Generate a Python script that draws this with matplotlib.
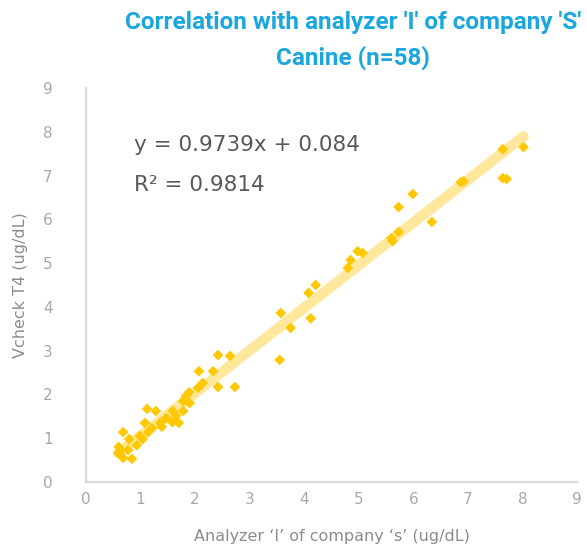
import numpy as np
import matplotlib
matplotlib.use('Agg')
import matplotlib.pyplot as plt

# analyzer 'I' of company 'S' vs Vcheck T4, canine samples
x_ref = [8.02, 7.64, 7.64, 7.71, 6.87, 6.92, 5.99, 5.73, 6.34, 5.73,
         5.60, 5.62, 4.98, 5.07, 4.85, 4.80, 4.21, 4.08, 4.12, 3.57,
         3.75, 3.55, 2.42, 2.64, 2.07, 2.33, 2.14, 2.05, 2.42, 2.73,
         1.89, 1.78, 1.90, 1.78, 1.59, 1.12, 1.28, 0.68, 1.08, 1.36,
         1.58, 1.70, 1.39, 1.14, 0.79, 0.93, 1.04, 0.60, 0.77, 0.59,
         0.68, 0.84, 1.83, 1.65, 1.21, 0.64, 0.99, 1.47]
y_vcheck = [7.65, 7.60, 6.94, 6.92, 6.85, 6.87, 6.58, 6.28, 5.94, 5.71,
            5.57, 5.50, 5.27, 5.23, 5.07, 4.89, 4.50, 4.32, 3.74, 3.86,
            3.52, 2.79, 2.90, 2.88, 2.53, 2.53, 2.26, 2.15, 2.17, 2.17,
            2.05, 1.85, 1.80, 1.62, 1.62, 1.67, 1.62, 1.14, 1.35, 1.35,
            1.37, 1.35, 1.26, 1.14, 0.98, 0.84, 0.98, 0.80, 0.73, 0.66,
            0.55, 0.53, 1.96, 1.51, 1.23, 0.73, 1.05, 1.46]

slope, intercept = 0.9739, 0.084
r2 = 0.9814
ticks = list(range(0, 10))

title_col = '#1AA6DF'
grey = '#A8A8A8'

fig = plt.figure(figsize=(5.87, 5.49), dpi=100)
ax = fig.add_axes([86/587, 1-482/549, (577-86)/587, (482-88)/549])

# trendline over the data range
xl = np.array([min(x_ref), max(x_ref)])
ax.plot(xl, slope*xl + intercept, color='#FFE89C', lw=7.5,
        solid_capstyle='round', zorder=1)
ax.scatter(x_ref, y_vcheck, marker='D', s=30, color='#FFC800',
           edgecolors='none', zorder=2)

ax.set_xlim(0, 9)
ax.set_ylim(0, 9)
ax.set_xticks(ticks)
ax.set_yticks(ticks)
ax.tick_params(length=0, colors=grey, labelsize=11)
ax.tick_params(axis='x', pad=7)
ax.tick_params(axis='y', pad=24)
for s in ['top', 'right']:
    ax.spines[s].set_visible(False)
for s in ['left', 'bottom']:
    ax.spines[s].set_color('#D9D9D9')
    ax.spines[s].set_linewidth(1.6)

ax.set_xlabel('Analyzer \u2018I\u2019 of company \u2018s\u2019 (ug/dL)',
              color='#8C8C8C', fontsize=11.5, labelpad=16)
ax.set_ylabel('Vcheck T4 (ug/dL)', color='#8C8C8C', fontsize=11.5,
              labelpad=11)

ax.text(0.88, 7.69, 'y = 0.9739x + 0.084', fontsize=15.5, color='#595959',
        va='center')
ax.text(0.88, 6.78, 'R\u00b2 = %.4f' % r2, fontsize=15.5, color='#595959',
        va='center')

fig.text(353/587, 1-23/549, "Correlation with analyzer 'I' of company 'S'",
         ha='center', va='center', color=title_col, fontsize=17.5,
         fontweight='bold', family=['Roboto', 'DejaVu Sans'])
fig.text(353/587, 1-58/549, 'Canine (n=58)', ha='center', va='center',
         color=title_col, fontsize=17.5, fontweight='bold',
         family=['Roboto', 'DejaVu Sans'])

fig.savefig('out.png', dpi=100)
